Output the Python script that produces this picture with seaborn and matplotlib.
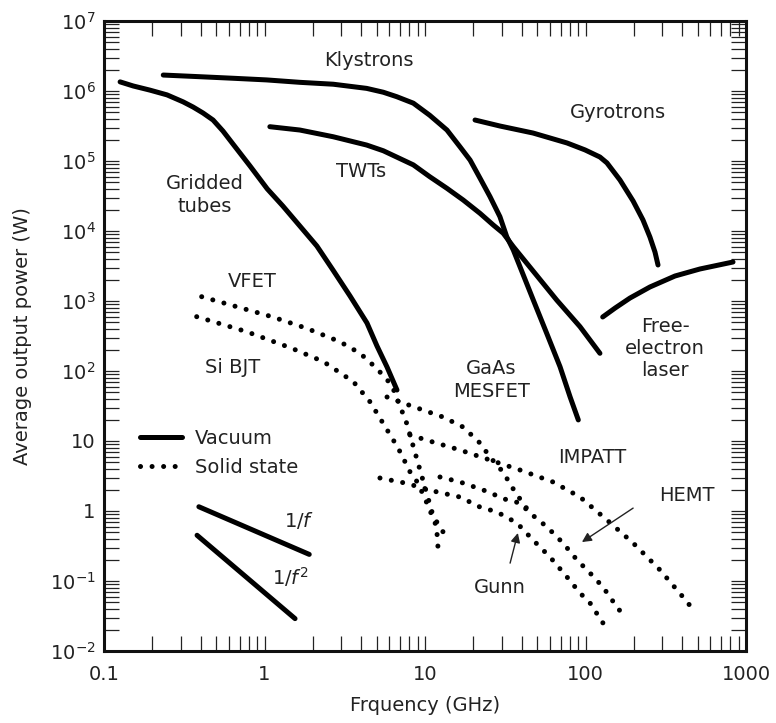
import matplotlib
matplotlib.use("Agg")
import matplotlib.pyplot as plt
import pandas as pd
import seaborn as sns
from matplotlib.ticker import FixedLocator, FixedFormatter, LogLocator, NullFormatter

# Vacuum devices (frequency GHz, average power W)
gridded_f = [0.126, 0.152, 0.193, 0.247, 0.311, 0.359, 0.414, 0.478, 0.551, 0.636,
             0.812, 1.04, 1.30, 1.66, 2.12, 2.67, 3.41, 4.35, 5.02, 5.80, 6.69]
gridded_p = [1.35e6, 1.18e6, 1.03e6, 8.8e5, 7.0e5, 5.9e5, 4.85e5, 3.85e5, 2.68e5, 1.75e5,
             8.5e4, 4.0e4, 2.28e4, 1.18e4, 6.1e3, 2.77e3, 1.18e3, 485, 228, 114, 53.5]

klystron_f = [0.234, 0.396, 0.639, 1.03, 1.66, 2.68, 4.33, 5.50, 6.66, 8.46, 10.7, 13.7,
              16.5, 19.1, 22.0, 25.4, 29.3, 32.3, 35.5, 47.3, 57.3, 69.4, 80.1, 90.2]
klystron_p = [1.69e6, 1.60e6, 1.52e6, 1.44e6, 1.33e6, 1.25e6, 1.09e6, 9.6e5, 8.3e5,
              6.7e5, 4.5e5, 2.77e5, 1.60e5, 1.03e5, 5.7e4, 3.1e4, 1.6e4, 8.3e3, 5.35e3,
              1.03e3, 346, 115, 42.9, 20]

twt_f = [1.08, 1.66, 2.68, 4.33, 5.50, 8.46, 10.7, 13.7, 17.3, 22.0, 26.6, 30.7, 35.5,
         66.2, 92.4, 123]
twt_p = [3.09e5, 2.77e5, 2.22e5, 1.69e5, 1.40e5, 8.8e4, 5.97e4, 4.07e4, 2.77e4, 1.79e4,
         1.22e4, 9.3e3, 5.97e3, 1.03e3, 430, 179]

gyro_f = [20.5, 29.3, 47.1, 76.7, 99.3, 123, 136, 164, 198, 228, 252, 271, 283]
gyro_p = [3.85e5, 3.16e5, 2.51e5, 1.81e5, 1.44e5, 1.14e5, 9.4e4, 5.35e4, 2.68e4,
          1.44e4, 8.2e3, 5.0e3, 3.27e3]

fel_f = [128, 153, 189, 252, 361, 516, 830]
fel_p = [591, 794, 1100, 1585, 2275, 2865, 3606]

# Solid-state devices
vfet_f = [0.406, 0.671, 1.11, 1.83, 2.95, 3.94, 5.0, 6.2, 6.82, 7.69, 8.46, 9.31,
          10.25, 11.27, 12.4, 13.3]
vfet_p = [1152, 829, 597, 407, 262, 179, 109, 63.1, 36.4, 17.9, 8.29, 3.85, 1.79,
          0.829, 0.597, 0.454]

sibjt_f = [0.378, 0.775, 1.48, 2.33, 3.58, 4.54, 6.35, 6.99, 8.06, 9.04, 10.4, 11.8, 12.1]
sibjt_p = [597, 364, 211, 136, 70.3, 36.4, 10.3, 7.03, 3.64, 2.51, 1.22, 0.597, 0.262]

mesfet_f = [5.80, 7.30, 9.72, 12.95, 17.3, 22.0, 25.4, 30.6, 36.4, 43.8]
mesfet_p = [42.5, 34.9, 27.7, 22.0, 15.8, 9.36, 5.91, 3.61, 1.87, 1.03]

impatt_f = [8.06, 11.2, 16.5, 25.4, 39.1, 62.7, 92.4, 136, 198, 291, 405, 461]
impatt_p = [12.2, 9.67, 7.44, 5.35, 3.85, 2.60, 1.585, 0.744, 0.349, 0.144, 0.059, 0.041]

hemt_f = [12.4, 16.5, 23.0, 32.4, 39.1, 45.1, 57.6, 72.4, 88.5, 106.7, 128.5, 157, 176]
hemt_p = [3.06, 2.60, 2.0, 1.44, 1.30, 0.936, 0.591, 0.349, 0.2, 0.130, 0.082, 0.0425,
          0.0306]

gunn_f = [5.24, 7.51, 11.9, 16.5, 22.0, 28.1, 37.4, 47.1, 60.1, 76.7, 92.4, 106.7, 128.5]
gunn_p = [2.96, 2.51, 1.87, 1.585, 1.14, 0.968, 0.674, 0.385, 0.220, 0.114, 0.0674,
          0.0485, 0.0251]

# Slope guides
inv_f_f = [0.39, 1.9]
inv_f_p = [1.15, 0.24]
inv_f2_f = [0.38, 1.55]
inv_f2_p = [0.45, 0.029]

x_ticks = [0.1, 1, 10, 100, 1000]
x_labels = ["0.1", "1", "10", "100", "1000"]
y_ticks = [1e-2, 1e-1, 1, 10, 1e2, 1e3, 1e4, 1e5, 1e6, 1e7]
y_labels = ["$10^{-2}$", "$10^{-1}$", "1", "10", "$10^{2}$", "$10^{3}$",
            "$10^{4}$", "$10^{5}$", "$10^{6}$", "$10^{7}$"]

sns.set_theme(style="ticks")
plt.rcParams["font.family"] = ["DejaVu Sans"]
plt.rcParams["mathtext.default"] = "regular"

vacuum = [(gridded_f, gridded_p), (klystron_f, klystron_p), (twt_f, twt_p),
          (gyro_f, gyro_p), (fel_f, fel_p), (inv_f_f, inv_f_p), (inv_f2_f, inv_f2_p)]
solid = [(vfet_f, vfet_p), (sibjt_f, sibjt_p), (mesfet_f, mesfet_p),
         (impatt_f, impatt_p), (hemt_f, hemt_p), (gunn_f, gunn_p)]

fig = plt.figure(figsize=(7.76, 7.23), dpi=100)
ax = fig.add_axes([104 / 776, 1 - 651 / 723, 642 / 776, 630 / 723])

dot_style = (0, (0.01, 2.3))
for f, p in vacuum:
    df = pd.DataFrame({"f": f, "p": p})
    sns.lineplot(data=df, x="f", y="p", ax=ax, color="black", lw=3.6,
                 sort=False, estimator=None, solid_capstyle="round",
                 solid_joinstyle="round")
for f, p in solid:
    df = pd.DataFrame({"f": f, "p": p})
    sns.lineplot(data=df, x="f", y="p", ax=ax, color="black", lw=3.6,
                 sort=False, estimator=None, linestyle=dot_style,
                 dash_capstyle="round")

ax.set_xscale("log")
ax.set_yscale("log")
ax.set_xlim(0.1, 1000)
ax.set_ylim(1e-2, 1e7)

tc = "#222222"
fs = 14

ax.xaxis.set_major_locator(FixedLocator(x_ticks))
ax.xaxis.set_major_formatter(FixedFormatter(x_labels))
ax.yaxis.set_major_locator(FixedLocator(y_ticks))
ax.yaxis.set_major_formatter(FixedFormatter(y_labels))
ax.xaxis.set_minor_locator(LogLocator(base=10, subs=range(2, 10), numticks=20))
ax.yaxis.set_minor_locator(LogLocator(base=10, subs=range(2, 10), numticks=20))
ax.xaxis.set_minor_formatter(NullFormatter())
ax.yaxis.set_minor_formatter(NullFormatter())
ax.tick_params(which="both", direction="in", length=11, width=0.9,
               top=True, right=True, colors=tc, labelsize=fs)
ax.tick_params(axis="x", pad=10)
ax.tick_params(axis="y", pad=6)
for s in ax.spines.values():
    s.set_linewidth(2.2)
    s.set_color("#111111")

ax.set_xlabel("Frquency (GHz)", fontsize=fs, color=tc, labelpad=9)
ax.set_ylabel("Average output power (W)", fontsize=fs, color=tc, labelpad=13)

# Device labels
ax.text(4.48, 2.77e6, "Klystrons", fontsize=fs, color=tc, ha="center", va="center")
ax.text(159, 5.0e5, "Gyrotrons", fontsize=fs, color=tc, ha="center", va="center")
ax.text(0.426, 3.27e4, "Gridded\ntubes", fontsize=fs, color=tc, ha="center", va="center",
        linespacing=1.3)
ax.text(3.99, 7.0e4, "TWTs", fontsize=fs, color=tc, ha="center", va="center")
ax.text(0.836, 1.87e3, "VFET", fontsize=fs, color=tc, ha="center", va="center")
ax.text(0.637, 114, "Si BJT", fontsize=fs, color=tc, ha="center", va="center")
ax.text(25.8, 74, "GaAs\nMESFET", fontsize=fs, color=tc, ha="center", va="center",
        linespacing=1.3)
ax.text(313, 213, "Free-\nelectron\nlaser", fontsize=fs, color=tc, ha="center",
        va="center", linespacing=1.2)
ax.text(110, 5.9, "IMPATT", fontsize=fs, color=tc, ha="center", va="center")
ax.text(429, 1.69, "HEMT", fontsize=fs, color=tc, ha="center", va="center")
ax.text(29.3, 0.082, "Gunn", fontsize=fs, color=tc, ha="center", va="center")
ax.text(1.64, 0.74, "1/$\\it{f}$", fontsize=fs, color=tc, ha="center", va="center")
ax.text(1.44, 0.114, "1/$\\it{f}^{2}$", fontsize=fs, color=tc, ha="center", va="center")

ax.annotate("", xy=(95, 0.36), xytext=(198, 1.1),
            arrowprops=dict(arrowstyle="-|>", color=tc, lw=1.0,
                            mutation_scale=14, shrinkA=0, shrinkB=0))
ax.annotate("", xy=(37.9, 0.485), xytext=(33.9, 0.18),
            arrowprops=dict(arrowstyle="-|>", color=tc, lw=1.0,
                            mutation_scale=14, shrinkA=0, shrinkB=0))

# Legend
h_vac, = ax.plot([], [], color="black", lw=3.6, solid_capstyle="round")
h_sol, = ax.plot([], [], color="black", lw=3.6, linestyle=dot_style, dash_capstyle="round")
leg = ax.legend([h_vac, h_sol], ["Vacuum", "Solid state"], loc="upper left",
                bbox_to_anchor=(0.029, 0.38), frameon=False, fontsize=fs,
                handlelength=2.16, handletextpad=0.67, labelspacing=0.5)
for t in leg.get_texts():
    t.set_color(tc)

fig.savefig("out.png", dpi=100)
